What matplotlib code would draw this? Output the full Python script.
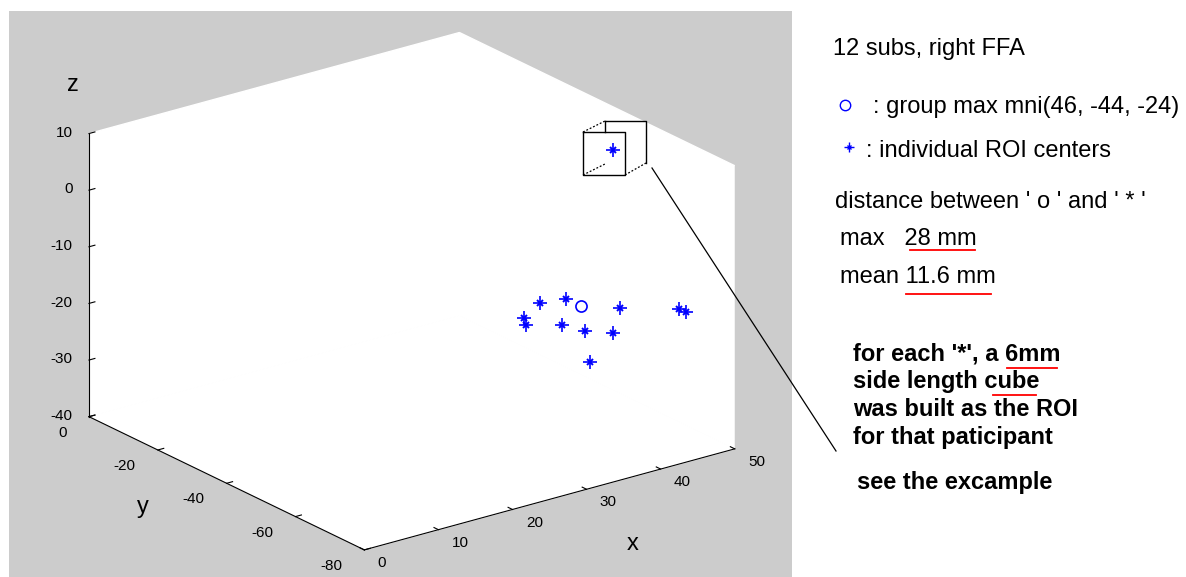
import matplotlib
matplotlib.use("Agg")
import matplotlib.pyplot as plt
from matplotlib.patches import Rectangle

plt.rcParams['font.family'] = ['Liberation Sans', 'DejaVu Sans']
plt.rcParams['axes.unicode_minus'] = False

# individual ROI centres, MNI coordinates in mm
roi_x = [40, 44, 36, 40, 42, 46, 48, 48, 44, 49, 49]
roi_y = [-45, -44, -49, -41, -47, -45, -49, -51, -51, -66, -68]
roi_z = [-21, -22, -21, -26, -25, -28, -28, -23, -31, -19, -19]

# group maximum
peak_x = [46]
peak_y = [-44]
peak_z = [-24]

x_ticks = [0, 10, 20, 30, 40, 50]
y_ticks = [-80, -60, -40, -20, 0]
z_ticks = [-40, -30, -20, -10, 0, 10]

W, H = 1186, 577
BLUE = '#0000ff'
GREY = '#cccccc'

fig = plt.figure(figsize=(W / 100, H / 100), dpi=100, facecolor='white')

# grey figure panel behind the 3-D axes
bg = fig.add_axes([0, 0, 1, 1], zorder=-1)
bg.set_xlim(0, W)
bg.set_ylim(H, 0)
bg.axis('off')
bg.add_patch(Rectangle((9, 11), 783, H - 11, color=GREY, lw=0))

ax = fig.add_axes([0.0007, -0.0182, 0.68, 1.0], projection='3d', proj_type='ortho')
ax.patch.set_visible(False)
ax.view_init(elev=21.3, azim=-126.9)
ax.set_box_aspect((1, 0.99, 0.656), zoom=1.21)

ax.plot(roi_x, roi_y, roi_z, ls='none', marker='+', ms=10, mew=1.2, color=BLUE)
ax.plot(roi_x, roi_y, roi_z, ls='none', marker='x', ms=4.5, mew=1.4, color=BLUE)
ax.plot(peak_x, peak_y, peak_z, ls='none', marker='o', ms=8, mfc='none', mec=BLUE, mew=1.2)

ax.set_xlim(0, 50)
ax.set_ylim(-80, 0)
ax.set_zlim(-40, 10)
ax.set_xticks(x_ticks)
ax.set_yticks(y_ticks)
ax.set_zticks(z_ticks)
ax.grid(False)
for axis in (ax.xaxis, ax.yaxis, ax.zaxis):
    axis.set_pane_color((1, 1, 1, 1))
    axis.line.set_color('black')
    axis.line.set_linewidth(0.8)
    axis._axinfo['tick']['inward_factor'] = 0.0
    axis._axinfo['tick']['outward_factor'] = 0.2
ax.tick_params(labelsize=11, colors='black', width=0.8)

# tick label placement along each edge
ax.xaxis.set_tick_params(pad=2.5)
ax.yaxis.set_tick_params(pad=5.0)
ax.zaxis.set_tick_params(pad=-2.6)
for t in ax.xaxis.get_major_ticks():
    t.label1.set_ha('left')
    t.label1.set_va('bottom')
for t in ax.yaxis.get_major_ticks():
    t.label1.set_ha('right')
    t.label1.set_va('bottom')
for t in ax.zaxis.get_major_ticks():
    t.label1.set_ha('right')
    t.label1.set_va('center')

# overlay in pixel coordinates for labels and notes
ov = fig.add_axes([0, 0, 1, 1], zorder=2)
ov.set_xlim(0, W)
ov.set_ylim(H, 0)
ov.axis('off')

ov.text(73, 85, 'z', fontsize=17, ha='center', va='center')
ov.text(143, 507, 'y', fontsize=17, ha='center', va='center')
ov.text(633, 544, 'x', fontsize=17, ha='center', va='center')

# example ROI cube
front = [(583, 132), (625, 132), (625, 175), (583, 175), (583, 132)]
ov.plot(*zip(*front), color='black', lw=1.0)
ov.plot([605, 646, 646], [121, 121, 163], color='black', lw=1.0)
ov.plot([605, 605], [121, 132], color='black', lw=1.0)
for (x0, y0), (x1, y1) in [((583, 132), (605, 121)), ((625, 175), (646, 163)),
                           ((583, 175), (605, 164))]:
    ov.plot([x0, x1], [y0, y1], color='black', lw=0.9, ls=(0, (1.5, 1.5)))
ov.plot([613], [150], ls='none', marker='+', ms=10, mew=1.2, color=BLUE)
ov.plot([613], [150], ls='none', marker='x', ms=4.5, mew=1.4, color=BLUE)
ov.plot([652, 836], [168, 451], color='black', lw=0.9)

# notes
fs = 17
ov.text(833, 55, '12 subs, right FFA', fontsize=fs, va='baseline')
ov.plot([845], [105], ls='none', marker='o', ms=7.5, mfc='none', mec=BLUE, mew=1.0)
ov.text(873, 113, ': group max mni(46, -44, -24)', fontsize=fs, va='baseline')
ov.plot([849], [147], ls='none', marker='+', ms=7, mew=1.0, color=BLUE)
ov.plot([849], [147], ls='none', marker='x', ms=3.5, mew=1.0, color=BLUE)
ov.text(866, 157, ': individual ROI centers', fontsize=fs, va='baseline')
ov.text(835, 208, "distance between ' o ' and ' * '", fontsize=fs, va='baseline')
ov.text(840, 245, 'max   28 mm', fontsize=fs, va='baseline')
ov.text(840, 283, 'mean 11.6 mm', fontsize=fs, va='baseline')
ov.plot([910, 975], [250, 250], color='red', lw=1.3)
ov.plot([906, 991], [294, 294], color='red', lw=1.3)

notes = ["for each '*', a 6mm", 'side length cube',
         'was built as the ROI', 'for that paticipant']
for i, line in enumerate(notes):
    ov.text(853, 360 + 28 * i, line, fontsize=17, fontweight='bold', va='baseline')
ov.plot([1007, 1057], [368, 368], color='red', lw=1.3)
ov.plot([993, 1036], [395, 395], color='red', lw=1.3)
ov.text(857, 489, 'see the excample', fontsize=17, fontweight='bold', va='baseline')

fig.savefig('out.png', dpi=100)
